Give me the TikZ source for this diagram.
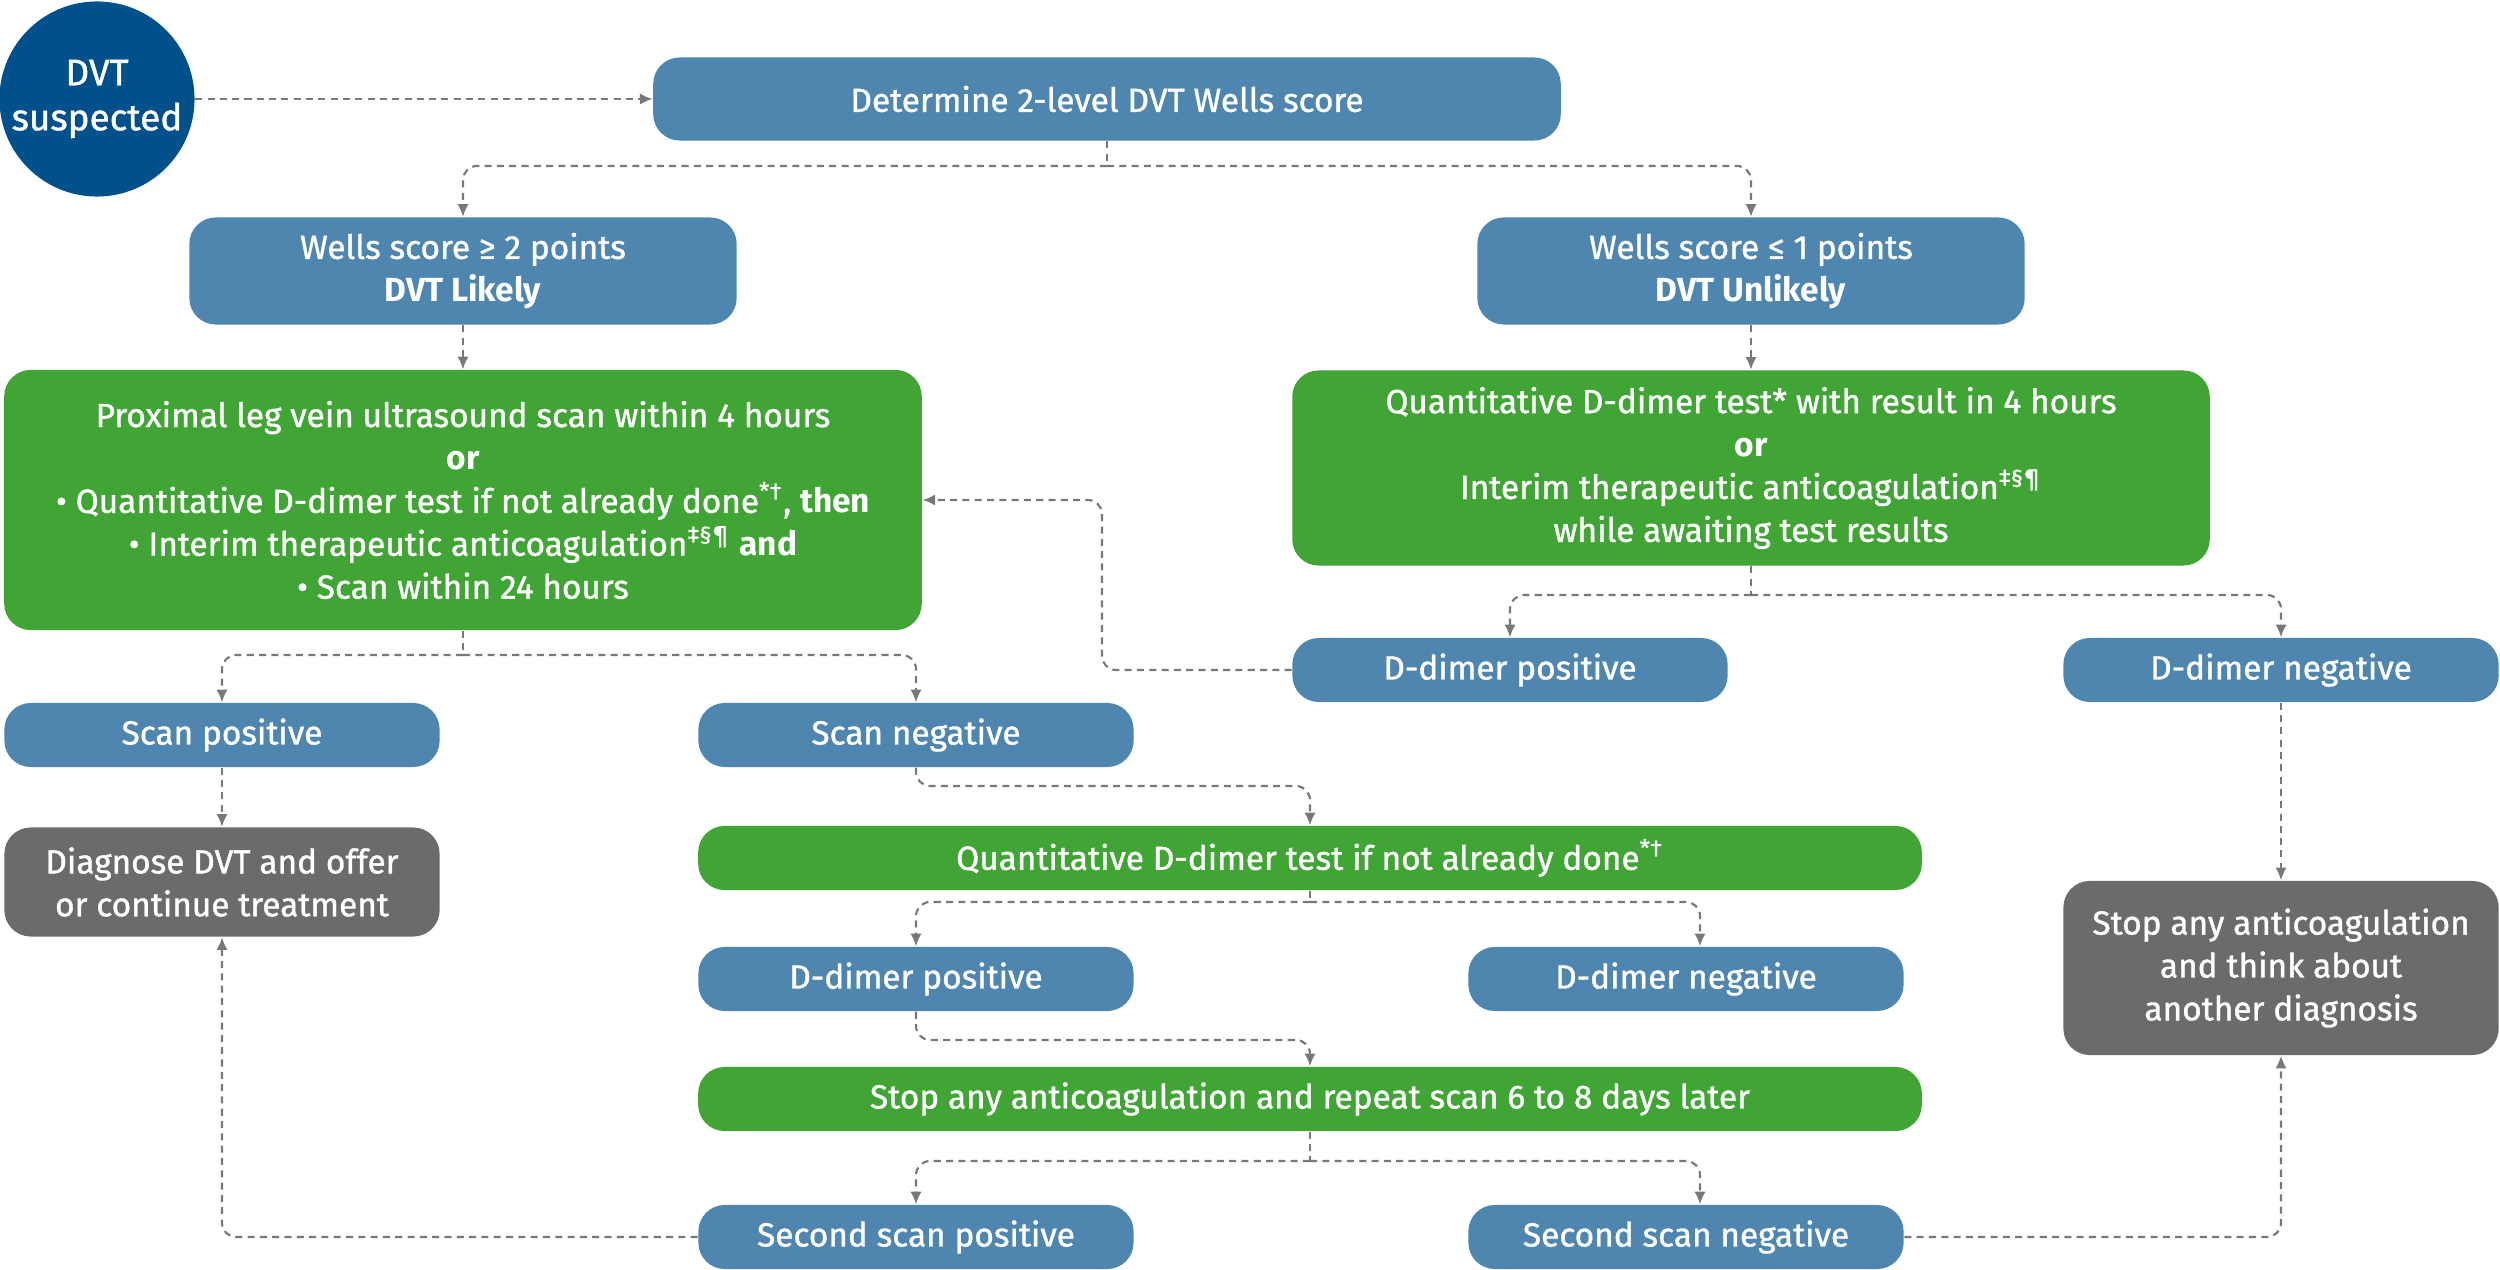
\documentclass[tikz,border=0pt]{standalone}
\usepackage{fontspec}
\setmainfont{Fira Sans}[UprightFeatures={FakeBold=1.1}]
\usetikzlibrary{arrows.meta}
\definecolor{darkblue}{RGB}{0,80,140}
\definecolor{boxblue}{RGB}{78,134,175}
\definecolor{boxgreen}{RGB}{64,165,53}
\definecolor{boxgrey}{RGB}{107,107,107}
\definecolor{linegrey}{RGB}{120,120,120}
\tikzset{
  link/.style={draw=linegrey, line width=0.6pt, dash pattern=on 2pt off 1.5pt, rounded corners=4pt},
  arrow/.style={link, ->, >={Latex[length=3.6pt,width=3.2pt]}},
  box/.style={rounded corners=7.5pt, text=white, align=center, inner sep=1pt,
    font=\fontsize{9.5}{12.2}\selectfont},
  bluebox/.style={box, fill=boxblue, minimum width=4.35cm, minimum height=0.64cm},
  greenbox/.style={box, fill=boxgreen, minimum width=9.17cm},
  greybox/.style={box, fill=boxgrey, minimum width=4.35cm},
  startnode/.style={circle, fill=darkblue, text=white, align=center, inner sep=0pt,
    minimum size=1.95cm, font=\fontsize{10.5}{12.8}\selectfont}
}

\begin{document}
\begin{tikzpicture}[x=0.01cm, y=-0.01cm]
    \useasboundingbox[fill=white] (0,0) rectangle (2500,1270);
    % top row
    \node[startnode] (dvt) at (97,99) {DVT\\suspected};
    \node[bluebox, minimum width=9.07cm, minimum height=0.83cm] (det) at (1107,99) {Determine 2-level DVT Wells score};
    \node[bluebox, minimum width=5.47cm, minimum height=1.07cm] (likely) at (463,271) {Wells score ≥ 2 points\\\textbf{DVT Likely}};
    \node[bluebox, minimum width=5.47cm, minimum height=1.07cm] (unlikely) at (1751,271) {Wells score ≤ 1 points\\\textbf{DVT Unlikely}};
    % tests
    \node[greenbox, minimum height=2.60cm] (greenL) at (463,500) {Proximal leg vein ultrasound scan within 4 hours\\\textbf{or}\\• Quantitative D-dimer test if not already done\textsuperscript{*†}, \textbf{then}\\• Interim therapeutic anticoagulation\textsuperscript{‡§¶} \textbf{and}\\• Scan within 24 hours};
    \node[greenbox, minimum height=1.95cm] (greenR) at (1751,468) {Quantitative D-dimer test* with result in 4 hours\\\textbf{or}\\Interim therapeutic anticoagulation\textsuperscript{‡§¶}\\while awaiting test results};
    \node[bluebox] (ddposR) at (1510,670) {D-dimer positive};
    \node[bluebox] (ddnegR) at (2281,670) {D-dimer negative};
    \node[bluebox] (scanpos) at (222,735) {Scan positive};
    \node[bluebox] (scanneg) at (916,735) {Scan negative};
    \node[greybox, minimum height=1.09cm] (diag) at (222,882) {Diagnose DVT and offer\\or continue treatment};
    \node[greybox, minimum height=1.74cm] (stopR) at (2281,968) {Stop any anticoagulation\\and think about\\another diagnosis};
    % lower part
    \node[greenbox, minimum width=12.23cm, minimum height=0.64cm] (greenM) at (1310,858) {Quantitative D-dimer test if not already done\textsuperscript{*†}};
    \node[bluebox] (ddposM) at (916,979) {D-dimer positive};
    \node[bluebox] (ddnegM) at (1686,979) {D-dimer negative};
    \node[greenbox, minimum width=12.23cm, minimum height=0.64cm] (greenB) at (1310,1099) {Stop any anticoagulation and repeat scan 6 to 8 days later};
    \node[bluebox] (secpos) at (916,1237) {Second scan positive};
    \node[bluebox] (secneg) at (1686,1237) {Second scan negative};
    % forks
    \coordinate (j1) at (1107,166);
    \coordinate (j2) at (1751,595);
    \coordinate (j3) at (463,655);
    \coordinate (j4) at (916,786);
    \coordinate (j5) at (1310,902);
    \coordinate (j6) at (916,1040);
    \coordinate (j7) at (1310,1161);
    \coordinate (back) at (1102,670);
    % connectors
    \draw[arrow] (dvt) -- (det);
    \draw[link] (det.south) -- (j1);
    \draw[arrow] (j1) -| (likely.north);
    \draw[arrow] (j1) -| (unlikely.north);
    \draw[arrow] (likely) -- (greenL);
    \draw[arrow] (unlikely) -- (greenR);
    \draw[link] (greenL.south) -- (j3);
    \draw[arrow] (j3) -| (scanpos.north);
    \draw[arrow] (j3) -| (scanneg.north);
    \draw[arrow] (scanpos) -- (diag);
    \draw[link] (greenR.south) -- (j2);
    \draw[arrow] (j2) -| (ddposR.north);
    \draw[arrow] (j2) -| (ddnegR.north);
    \draw[arrow] (ddposR.west) -- (back) |- (greenL.east);
    \draw[arrow] (ddnegR) -- (stopR);
    \draw[arrow] (scanneg.south) -- (j4) -| (greenM.north);
    \draw[link] (greenM.south) -- (j5);
    \draw[arrow] (j5) -| (ddposM.north);
    \draw[arrow] (j5) -| ([xshift=0.14cm]ddnegM.north);
    \draw[arrow] (ddposM.south) -- (j6) -| (greenB.north);
    \draw[link] (greenB.south) -- (j7);
    \draw[arrow] (j7) -| (secpos.north);
    \draw[arrow] (j7) -| ([xshift=0.14cm]secneg.north);
    \draw[arrow] (secpos.west) -| (diag.south);
    \draw[arrow] (secneg.east) -| (stopR.south);
\end{tikzpicture}
\end{document}
